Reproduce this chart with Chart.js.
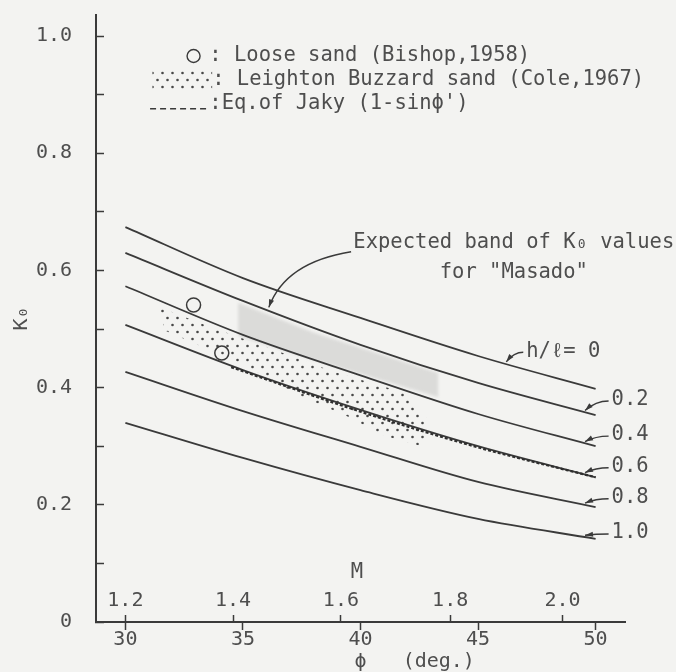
<!DOCTYPE html>
<html>
<head>
<meta charset="utf-8">
<title>K0 - phi</title>
<script src="https://cdn.jsdelivr.net/npm/chart.js@4.4.1/dist/chart.umd.min.js"></script>
<style>
  html, body { margin: 0; padding: 0; background: #f3f3f1; }
  canvas { display: block; }
</style>
</head>
<body>
<canvas id="k0Chart" width="676" height="672"></canvas>
<script>

// ======================
// DATA
// ======================

const phiValues = [30, 35, 40, 45, 50];

// K0 curves, one per h/l ratio
const curveNames = ["0", "0.2", "0.4", "0.6", "0.8", "1.0"];
const k0H00 = [0.674, 0.587, 0.519, 0.454, 0.398];
const k0H02 = [0.630, 0.548, 0.473, 0.408, 0.353];
const k0H04 = [0.573, 0.490, 0.421, 0.355, 0.300];
const k0H06 = [0.507, 0.430, 0.362, 0.300, 0.247];
const k0H08 = [0.427, 0.360, 0.299, 0.239, 0.196];
const k0H10 = [0.340, 0.280, 0.225, 0.176, 0.142];

// Jaky (1 - sin phi')
const jakyPhi = [34.5, 35, 40, 45, 50];
const jakyK0 = [0.435, 0.428, 0.359, 0.298, 0.247];

// loose sand, Bishop 1958
const bishopPhi = [32.9, 34.1];
const bishopK0 = [0.541, 0.459];

// Leighton Buzzard sand band, Cole 1967 (outline)
const colePhi = [31.4, 33.5, 36.3, 38.8, 41.8, 42.9, 42.6, 41.0, 39.5, 37.5, 35.0, 31.7];
const coleK0 = [0.538, 0.505, 0.465, 0.428, 0.392, 0.345, 0.300, 0.318, 0.350, 0.385, 0.440, 0.497];

// expected band for Masado (outline)
const masadoPhi = [34.8, 38.0, 43.3, 43.3, 38.0, 34.8];
const masadoK0 = [0.545, 0.494, 0.425, 0.384, 0.447, 0.488];

// axis ticks
const phiTicks = [30, 35, 40, 45, 50];
const kTicks = [0, 0.1, 0.2, 0.3, 0.4, 0.5, 0.6, 0.7, 0.8, 0.9, 1.0];
const kTickLabels = ["0", "", "0.2", "", "0.4", "", "0.6", "", "0.8", "", "1.0"];
const mTicks = [1.2, 1.4, 1.6, 1.8, 2.0];
const mTickLabels = ["1.2", "1.4", "1.6", "1.8", "2.0"];


// ======================
// STYLE
// ======================

const ink = "#3a3a3a";
const textInk = "#4e4e4e";
const fontFamily = '"DejaVu Sans Mono", "Liberation Mono", monospace';
const fontSize = 20;
const noteFont = "20.5px " + fontFamily;

const phiMin = 28.75;
const phiMax = 51.25;

Chart.defaults.font.family = fontFamily;
Chart.defaults.font.size = fontSize;
Chart.defaults.color = textInk;


// ======================
// HELPERS
// ======================

function toPoints(xs, ys) {
  return xs.map((x, i) => ({ x, y: ys[i] }));
}

// M = 6 sin(phi) / (3 - sin(phi))  ->  phi for a given M
function phiForM(m) {
  return Math.asin(3 * m / (6 + m)) * 180 / Math.PI;
}

const canvas = document.getElementById("k0Chart");

function makeStipple() {
  const tile = document.createElement("canvas");
  tile.width = 10;
  tile.height = 14;
  const g = tile.getContext("2d");
  g.fillStyle = "#474747";
  g.beginPath(); g.arc(2.5, 3, 1.3, 0, Math.PI * 2); g.fill();
  g.beginPath(); g.arc(7.5, 10, 1.3, 0, Math.PI * 2); g.fill();
  return canvas.getContext("2d").createPattern(tile, "repeat");
}

const stipple = makeStipple();

function arrowHead(ctx, fromX, fromY, toX, toY) {
  const a = Math.atan2(toY - fromY, toX - fromX);
  const len = 8;
  const half = 2.6;
  ctx.beginPath();
  ctx.moveTo(toX, toY);
  ctx.lineTo(toX - len * Math.cos(a) + half * Math.sin(a), toY - len * Math.sin(a) - half * Math.cos(a));
  ctx.lineTo(toX - len * Math.cos(a) - half * Math.sin(a), toY - len * Math.sin(a) + half * Math.cos(a));
  ctx.closePath();
  ctx.fill();
}


// ======================
// NOTES (legend, callouts, curve tags)
// ======================

const legendRows = [
  { symbol: "circle", at: [32.9, 0.966], textAt: [33.57, 0.966], text: ": Loose sand (Bishop,1958)" },
  { symbol: "stipple", from: [31.15, 0.941], to: [33.69, 0.906], textAt: [33.69, 0.925], text: ": Leighton Buzzard sand (Cole,1967)" },
  { symbol: "dash", from: [31.05, 0.876], to: [33.6, 0.876], textAt: [33.57, 0.884], text: ":Eq.of Jaky (1-sin\u03D5')" }
];

const curveTags = [
  { text: "h/\u2113= " + curveNames[0], at: [47.05, 0.462], tip: [46.2, 0.444] },
  { text: curveNames[1], at: [50.68, 0.379], tip: [49.55, 0.361] },
  { text: curveNames[2], at: [50.68, 0.319], tip: [49.55, 0.308] },
  { text: curveNames[3], at: [50.68, 0.265], tip: [49.55, 0.255] },
  { text: curveNames[4], at: [50.68, 0.212], tip: [49.55, 0.203] },
  { text: curveNames[5], at: [50.68, 0.152], tip: [49.55, 0.148] }
];

const masadoNote = {
  lines: ["Expected band of K\u2080 values", "for \"Masado\""],
  center: [46.52, 0.648],
  lineGap: 0.051,
  from: [39.6, 0.632],
  bend: [36.8, 0.614],
  to: [36.1, 0.537]
};

const mTitle = { text: "M", at: [39.85, 0.085] };

const figureNotes = {

  id: "figureNotes",

  // the Masado band is drawn first; soften it, then drop the filter
  beforeDatasetsDraw(chart) {
    chart.ctx.save();
    chart.ctx.filter = "blur(1.5px)";
  },

  afterDatasetDraw(chart, args) {
    if (args.meta.label === "Masado") {
      chart.ctx.restore();
    }
  },

  afterDatasetsDraw(chart) {

    const { ctx } = chart;
    const xs = chart.scales.x;
    const ys = chart.scales.y;
    const px = p => [xs.getPixelForValue(p[0]), ys.getPixelForValue(p[1])];

    ctx.save();
    ctx.font = noteFont;
    ctx.fillStyle = textInk;
    ctx.strokeStyle = ink;
    ctx.lineWidth = 1.4;
    ctx.textBaseline = "middle";

    // legend
    legendRows.forEach(row => {

      if (row.symbol === "circle") {
        const [cx, cy] = px(row.at);
        ctx.beginPath();
        ctx.arc(cx, cy, 6.5, 0, Math.PI * 2);
        ctx.stroke();
      }

      if (row.symbol === "stipple") {
        const [x1, y1] = px(row.from);
        const [x2, y2] = px(row.to);
        ctx.save();
        ctx.fillStyle = stipple;
        ctx.fillRect(x1, y1, x2 - x1, y2 - y1);
        ctx.restore();
      }

      if (row.symbol === "dash") {
        const [x1, y1] = px(row.from);
        const [x2] = px(row.to);
        ctx.save();
        ctx.setLineDash([6, 4]);
        ctx.beginPath();
        ctx.moveTo(x1, y1);
        ctx.lineTo(x2, y1);
        ctx.stroke();
        ctx.restore();
      }

      const [tx, ty] = px(row.textAt);
      ctx.textAlign = "left";
      ctx.fillText(row.text, tx, ty);

    });

    // Masado callout
    const [mx, my] = px(masadoNote.center);
    const gap = ys.getPixelForValue(0) - ys.getPixelForValue(masadoNote.lineGap);
    ctx.textAlign = "center";
    masadoNote.lines.forEach((line, i) => {
      ctx.fillText(line, mx, my + i * gap);
    });

    const [ax, ay] = px(masadoNote.from);
    const [bx, by] = px(masadoNote.bend);
    const [cx, cy] = px(masadoNote.to);
    ctx.beginPath();
    ctx.moveTo(ax, ay);
    ctx.quadraticCurveTo(bx, by, cx, cy);
    ctx.stroke();
    ctx.fillStyle = ink;
    arrowHead(ctx, bx, by, cx, cy);

    // curve tags with leaders
    curveTags.forEach(tag => {
      const [lx, ly] = px(tag.at);
      const [tx, ty] = px(tag.tip);
      ctx.fillStyle = textInk;
      ctx.textAlign = "left";
      ctx.fillText(tag.text, lx, ly);

      const sx = lx - 3;
      const sy = ly + 1;
      const qx = sx - 0.55 * (sx - tx);
      const qy = sy;
      ctx.beginPath();
      ctx.moveTo(sx, sy);
      ctx.quadraticCurveTo(qx, qy, tx, ty);
      ctx.stroke();
      ctx.fillStyle = ink;
      arrowHead(ctx, qx, qy, tx, ty);
    });

    // M axis title
    const [Mx, My] = px(mTitle.at);
    ctx.fillStyle = textInk;
    ctx.textAlign = "center";
    ctx.fillText(mTitle.text, Mx, My);

    ctx.restore();

  }

};


// ======================
// DATASETS
// ======================

const curveSeries = [k0H00, k0H02, k0H04, k0H06, k0H08, k0H10];

const curveDatasets = curveSeries.map((values, i) => ({
  label: "h/l = " + curveNames[i],
  data: toPoints(phiValues, values),
  showLine: true,
  fill: false,
  borderColor: ink,
  borderWidth: 1.8,
  pointRadius: 0,
  cubicInterpolationMode: "monotone",
  order: 2
}));

const datasets = [

  {
    label: "Masado",
    data: toPoints(masadoPhi, masadoK0),
    showLine: true,
    fill: "shape",
    backgroundColor: "rgba(125, 125, 125, 0.2)",
    borderColor: "transparent",
    borderWidth: 0,
    pointRadius: 0,
    order: 6
  },

  {
    label: "Leighton Buzzard sand (Cole,1967)",
    data: toPoints(colePhi, coleK0),
    showLine: true,
    fill: "shape",
    backgroundColor: stipple,
    borderColor: "transparent",
    borderWidth: 0,
    pointRadius: 0,
    order: 5
  },

  ...curveDatasets,

  {
    label: "Eq.of Jaky",
    data: toPoints(jakyPhi, jakyK0),
    showLine: true,
    fill: false,
    borderColor: "#2e2e2e",
    borderWidth: 2.2,
    borderDash: [3, 2],
    pointRadius: 0,
    cubicInterpolationMode: "monotone",
    order: 1
  },

  {
    label: "Loose sand (Bishop,1958)",
    data: toPoints(bishopPhi, bishopK0),
    showLine: false,
    pointStyle: "circle",
    pointRadius: 7,
    pointBorderWidth: 1.5,
    pointBorderColor: ink,
    pointBackgroundColor: "transparent",
    order: 0
  }

];


// ======================
// CHART
// ======================

new Chart(canvas, {

  type: "scatter",

  data: { datasets },

  plugins: [figureNotes],

  options: {

    responsive: false,
    animation: false,
    events: [],

    layout: {
      padding: { left: 0, right: 51, top: 15, bottom: 0 }
    },

    plugins: {
      legend: { display: false },
      tooltip: { enabled: false }
    },

    scales: {

      x: {
        type: "linear",
        position: "bottom",
        min: phiMin,
        max: phiMax,
        afterBuildTicks: scale => {
          scale.ticks = phiTicks.map(v => ({ value: v }));
        },
        afterFit: scale => {
          scale.height = 50;
          scale.paddingLeft = 0;
          scale.paddingRight = 0;
        },
        ticks: {
          autoSkip: false,
          maxRotation: 0,
          padding: -2,
          color: textInk,
          callback: (value, i) => String(phiTicks[i])
        },
        grid: {
          drawOnChartArea: false,
          tickLength: 8,
          tickColor: ink,
          tickWidth: 1.5
        },
        border: { display: true, color: ink, width: 2 },
        title: {
          display: true,
          text: "         \u03D5   (deg.)",
          color: textInk,
          font: { size: fontSize, lineHeight: 1 },
          padding: { top: 0, bottom: 0 }
        }
      },

      m: {
        type: "linear",
        axis: "x",
        position: { y: 0 },
        min: phiMin,
        max: phiMax,
        afterBuildTicks: scale => {
          scale.ticks = mTicks.map(m => ({ value: phiForM(m) }));
        },
        afterFit: scale => {
          scale.paddingLeft = 0;
          scale.paddingRight = 0;
        },
        ticks: {
          autoSkip: false,
          maxRotation: 0,
          padding: -26,
          color: textInk,
          callback: (value, i) => mTickLabels[i]
        },
        grid: {
          drawOnChartArea: false,
          tickLength: -7,
          tickColor: ink,
          tickWidth: 1.5
        },
        border: { display: false }
      },

      y: {
        type: "linear",
        position: "left",
        min: 0,
        max: 1.036,
        afterBuildTicks: scale => {
          scale.ticks = kTicks.map(v => ({ value: v }));
        },
        afterFit: scale => {
          scale.width = 96;
          scale.paddingTop = 0;
          scale.paddingBottom = 0;
        },
        ticks: {
          autoSkip: false,
          padding: 32,
          color: textInk,
          callback: (value, i) => kTickLabels[i]
        },
        grid: {
          drawOnChartArea: false,
          tickLength: -8,
          tickColor: ink,
          tickWidth: 1.5
        },
        border: { display: true, color: ink, width: 2 },
        title: {
          display: true,
          text: "K\u2080",
          color: textInk,
          font: { size: fontSize },
          padding: { top: 10, bottom: 0 }
        }
      }

    }

  }

});

</script>
</body>
</html>
